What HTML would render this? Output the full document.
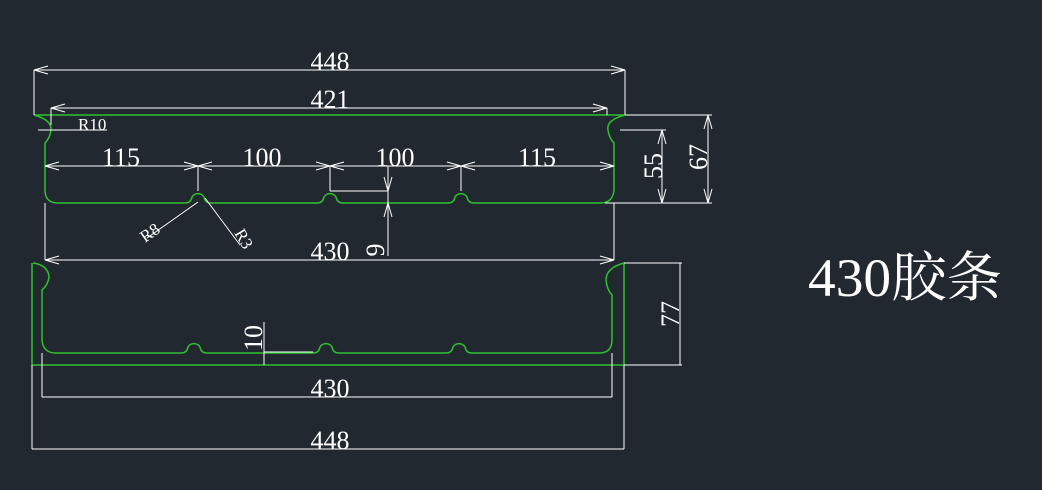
<!DOCTYPE html>
<html><head><meta charset="utf-8"><style>
html,body{margin:0;padding:0;background:#212830;}
svg{display:block}
text{font-family:"Liberation Serif","Noto Serif CJK SC",serif;fill:#fff;}
</style></head><body>
<svg width="1042" height="490" viewBox="0 0 1042 490" xmlns="http://www.w3.org/2000/svg">
<rect width="1042" height="490" fill="#212830"/>
<g fill="none" stroke="#2fbf2f" stroke-width="1.5">
<!-- top profile -->
<path d="M34 115 H625 Q606 120 608 130 Q609 138 614 143 V190 Q613 203 600 203 H474 Q468 203 467 197 A7 7 0 0 0 455 197 Q454 203 448 203 H343 Q337 203 336 197 A7 7 0 0 0 324 197 Q323 203 317 203 H211 Q205 203 204 197 A7 7 0 0 0 192 197 Q191 203 185 203 H58 Q45 203 45 190 V143 Q50 138 51 130 Q52 120 34 115"/>
<!-- bottom profile -->
<path d="M32 263 V365 H624 V263 Q606 268 606 280 Q607 290 612 295 V340 Q612 353 599 353 H472 Q466 353 465 347 A7 7 0 0 0 453 347 Q452 353 446 353 H339 Q333 353 332 347 A7 7 0 0 0 320 347 Q319 353 313 353 H207 Q201 353 200 347 A7 7 0 0 0 188 347 Q187 353 181 353 H56 Q43 353 42 340 V290 Q48 285 49 277 Q48 265 33 263"/>
</g>
<g stroke="#fff" stroke-width="1" fill="none">
<path d="M34 70 H625 M34 70 V115 M625 70 V115 M34 70 l14 -4 M34 70 l14 4 M625 70 l-14 -4 M625 70 l-14 4"/>
<path d="M51 108 H607 M51 108 V125 M607 108 V115 M51 108 l14 -4 M51 108 l14 4 M607 108 l-14 -4 M607 108 l-14 4"/>
<path d="M38 130 H107"/>
<path d="M45 166 H614 M198 166 V191 M330 166 V191 M461 166 V191
M45 166 l14 -4 M45 166 l14 4 M614 166 l-14 -4 M614 166 l-14 4
M198 166 l-14 -4 M198 166 l-14 4 M198 166 l14 -4 M198 166 l14 4
M330 166 l-14 -4 M330 166 l-14 4 M330 166 l14 -4 M330 166 l14 4
M461 166 l-14 -4 M461 166 l-14 4 M461 166 l14 -4 M461 166 l14 4"/>
<path d="M330 191 H388 M388 166 V256 M388 191 l-4 -14 M388 191 l4 -14 M388 203 l-4 14 M388 203 l4 14"/>
<path d="M198 202 L147 238 M205 198 L240 245"/>
<path d="M45 203 V260 M614 203 V260 M45 260 H614 M45 260 l14 -4 M45 260 l14 4 M614 260 l-14 -4 M614 260 l-14 4"/>
<path d="M620 130 H666 M605 203 H712 M662 130 V203 M662 130 l-4 14 M662 130 l4 14 M662 203 l-4 -14 M662 203 l4 -14"/>
<path d="M625 115 H712 M708 115 V203 M708 115 l-4 14 M708 115 l4 14 M708 203 l-4 -14 M708 203 l4 -14"/>
<path d="M264 322 V365 M264 352 H313"/>
<path d="M624 263 H682 M680 263 V365 M624 365 H682"/>
<path d="M42 353 V397 M612 353 V397 M42 397 H612"/>
<path d="M32 365 V449 M624 365 V449 M32 449 H624"/>
</g>
<g font-size="26">
<text x="330" y="70" text-anchor="middle">448</text>
<text x="330" y="108" text-anchor="middle">421</text>
<text x="121" y="166" text-anchor="middle">115</text>
<text x="262" y="166" text-anchor="middle">100</text>
<text x="395" y="166" text-anchor="middle">100</text>
<text x="537" y="166" text-anchor="middle">115</text>
<text x="330" y="260" text-anchor="middle">430</text>
<text x="330" y="397" text-anchor="middle">430</text>
<text x="330" y="449" text-anchor="middle">448</text>
<text transform="translate(384,250) rotate(-90)" text-anchor="middle">9</text>
<text transform="translate(662,166) rotate(-90)" text-anchor="middle">55</text>
<text transform="translate(707,157) rotate(-90)" text-anchor="middle">67</text>
<text transform="translate(679,314) rotate(-90)" text-anchor="middle">77</text>
<text transform="translate(262,338) rotate(-90)" text-anchor="middle">10</text>
</g>
<text x="78" y="130" font-size="17">R10</text>
<text transform="translate(145,243) rotate(-35)" font-size="17">R8</text>
<text transform="translate(234,233) rotate(60)" font-size="17">R3</text>
<text x="808" y="296" font-size="54" textLength="194" lengthAdjust="spacingAndGlyphs">430胶条</text>
</svg>
</body></html>
